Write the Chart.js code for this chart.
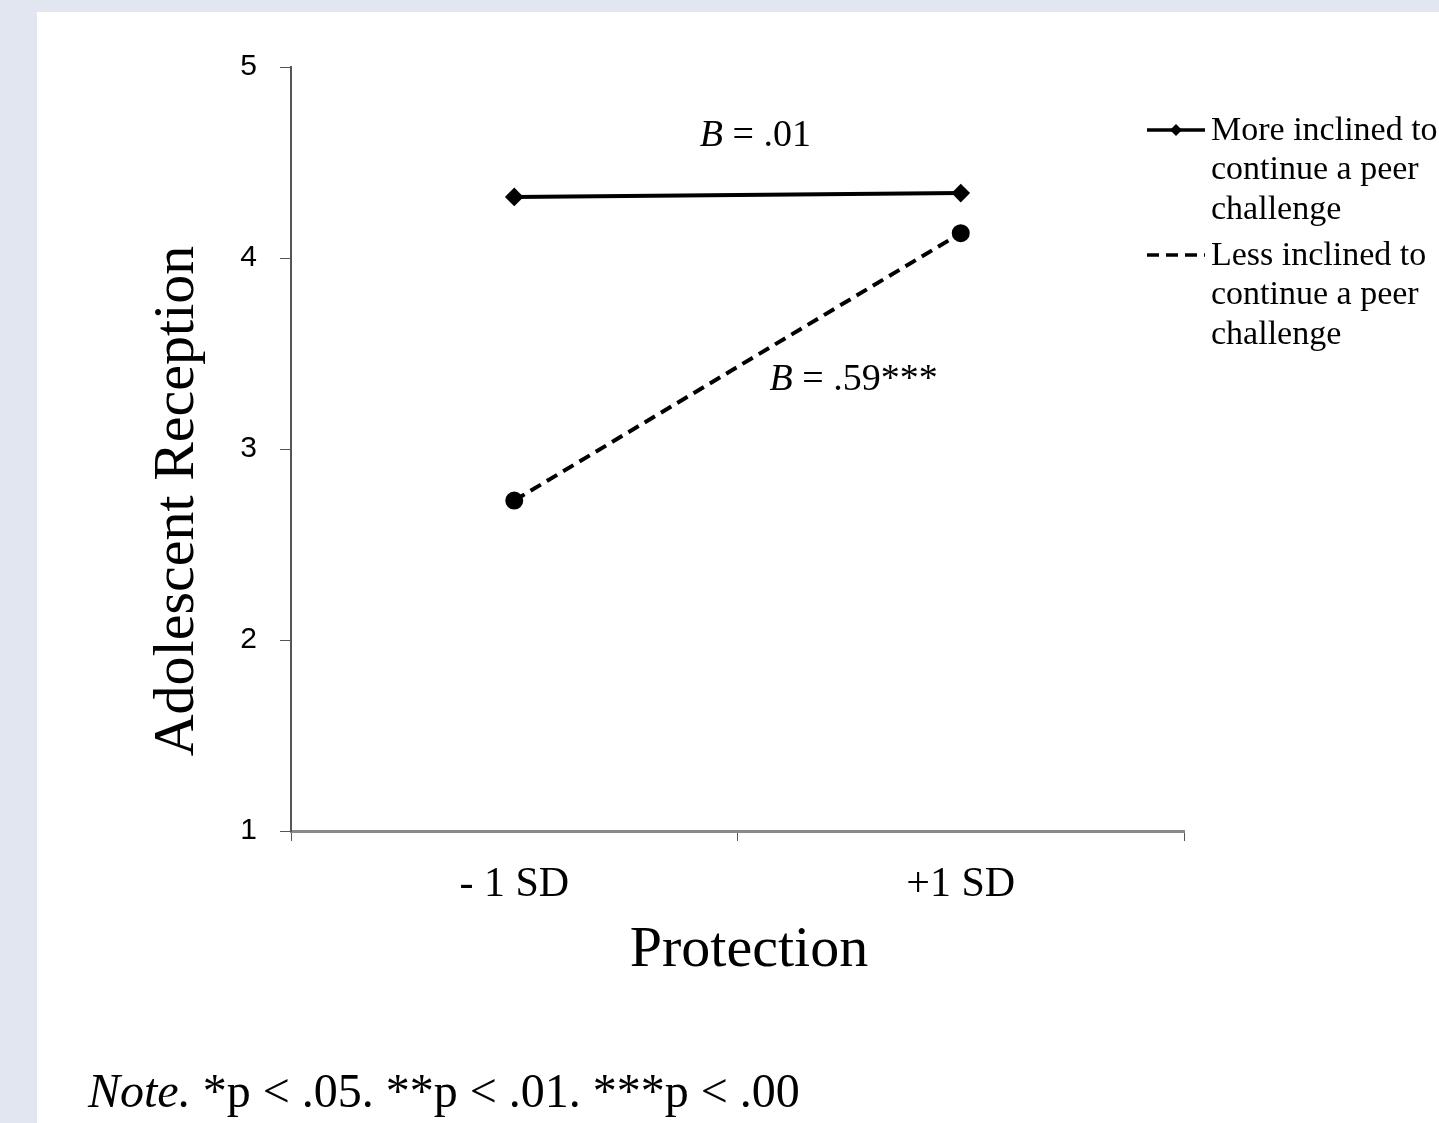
<!DOCTYPE html>
<html>
<head>
<meta charset="utf-8">
<script src="https://cdn.jsdelivr.net/npm/chart.js@4.4.0/dist/chart.umd.min.js"></script>
<style>
  html, body { margin: 0; padding: 0; }
  body { width: 1439px; height: 1123px; background: #e2e6f1; position: relative; overflow: hidden; }
  #panel { position: absolute; left: 37px; top: 12px; width: 1402px; height: 1111px; background: #fff; }
  #wrap { position: absolute; left: 0; top: 0; width: 1439px; height: 1123px; }
  #note { position: absolute; left: 88px; top: 1063px; font: 48px "Liberation Serif", "Times New Roman", serif; line-height: 55px; color: #000; white-space: nowrap; }
</style>
</head>
<body>
<div id="panel"></div>
<div id="wrap"><canvas id="chart" width="1439" height="1123"></canvas></div>
<div id="note"><i>Note.</i> *p &lt; .05. **p &lt; .01. ***p &lt; .00</div>
<script>
// data
const categories = ['- 1 SD', '+1 SD'];
const moreInclined = [4.32, 4.34];
const lessInclined = [2.73, 4.13];
const yTicks = [1, 2, 3, 4, 5];
const legendLines = [
    ['More inclined to', 'continue a peer', 'challenge'],
    ['Less inclined to', 'continue a peer', 'challenge']
];
// slope labels: [italic part, rest, x (category units), y (value units)]
const slopeLabels = [
    ['B', ' = .01', 0.54, 4.64],
    ['B', ' = .59***', 0.76, 3.36]
];

const serif = '"Liberation Serif", "Times New Roman", serif';

// axis titles, legend and slope labels drawn on the canvas
const extrasPlugin = {
    id: 'extras',
    afterDraw(chart) {
        const ctx = chart.ctx;
        const xs = chart.scales.x, ys = chart.scales.y;
        ctx.save();
        ctx.fillStyle = '#000';

        // axis titles
        ctx.font = '58px ' + serif;
        ctx.textAlign = 'center';
        ctx.textBaseline = 'middle';
        ctx.fillText('Protection', 749, 951);
        ctx.save();
        ctx.translate(178, 501);
        ctx.rotate(-Math.PI / 2);
        ctx.fillText('Adolescent Reception', 0, 0);
        ctx.restore();

        // slope labels
        ctx.textAlign = 'left';
        slopeLabels.forEach(l => {
            const px = xs.getPixelForValue(l[2]);
            const py = ys.getPixelForValue(l[3]);
            ctx.font = 'italic 38px ' + serif;
            const w1 = ctx.measureText(l[0]).width;
            ctx.font = '38px ' + serif;
            const w2 = ctx.measureText(l[1]).width;
            const x0 = px - (w1 + w2) / 2;
            ctx.font = 'italic 38px ' + serif;
            ctx.fillText(l[0], x0, py);
            ctx.font = '38px ' + serif;
            ctx.fillText(l[1], x0 + w1, py);
        });

        // legend
        const tops = [130, 255];
        chart.data.datasets.forEach((ds, i) => {
            const y = tops[i];
            ctx.save();
            ctx.strokeStyle = ds.borderColor;
            ctx.lineWidth = 3.5;
            ctx.setLineDash(ds.borderDash || []);
            ctx.beginPath();
            ctx.moveTo(1147, y);
            ctx.lineTo(1205, y);
            ctx.stroke();
            ctx.restore();
            if (i === 0) {
                ctx.beginPath();
                ctx.moveTo(1176, y - 6);
                ctx.lineTo(1182, y);
                ctx.lineTo(1176, y + 6);
                ctx.lineTo(1170, y);
                ctx.closePath();
                ctx.fill();
            }
            ctx.font = '34px ' + serif;
            ctx.textAlign = 'left';
            ctx.textBaseline = 'middle';
            legendLines[i].forEach((t, k) => ctx.fillText(t, 1211, y + 1 + k * 39.5));
        });
        ctx.restore();
    }
};

const ctx = document.getElementById('chart').getContext('2d');
new Chart(ctx, {
    type: 'line',
    data: {
        labels: categories,
        datasets: [{
            label: legendLines[0].join(' '),
            data: moreInclined,
            borderColor: '#000',
            backgroundColor: '#000',
            borderWidth: 4,
            pointStyle: 'rectRot',
            pointRadius: 6.5,
            fill: false
        }, {
            label: legendLines[1].join(' '),
            data: lessInclined,
            borderColor: '#000',
            backgroundColor: '#000',
            borderWidth: 4,
            borderDash: [12, 7],
            pointStyle: 'circle',
            pointRadius: 7,
            fill: false
        }]
    },
    options: {
        responsive: false,
        animation: false,
        layout: { padding: { top: 67, right: 255, bottom: 132, left: 100 } },
        plugins: {
            legend: { display: false },
            tooltip: { enabled: false }
        },
        scales: {
            x: {
                type: 'category',
                offset: true,
                border: { display: true, color: '#8a8a8a', width: 3 },
                grid: { offset: true, drawOnChartArea: false, drawTicks: true, tickLength: 10, color: '#555' },
                ticks: { color: '#000', padding: 19, font: { family: serif, size: 42 } },
                afterFit(scale) { scale.height = 160; }
            },
            y: {
                min: 1,
                max: 5,
                border: { display: true, color: '#555', width: 2 },
                grid: { drawOnChartArea: false, drawTicks: true, tickLength: 11, color: '#555' },
                afterBuildTicks(scale) { scale.ticks = yTicks.map(v => ({ value: v })); },
                ticks: { color: '#000', padding: 23, font: { family: '"Liberation Sans", Arial, sans-serif', size: 30 } },
                afterFit(scale) { scale.width = 191; }
            }
        }
    },
    plugins: [extrasPlugin]
});
</script>
</body>
</html>
